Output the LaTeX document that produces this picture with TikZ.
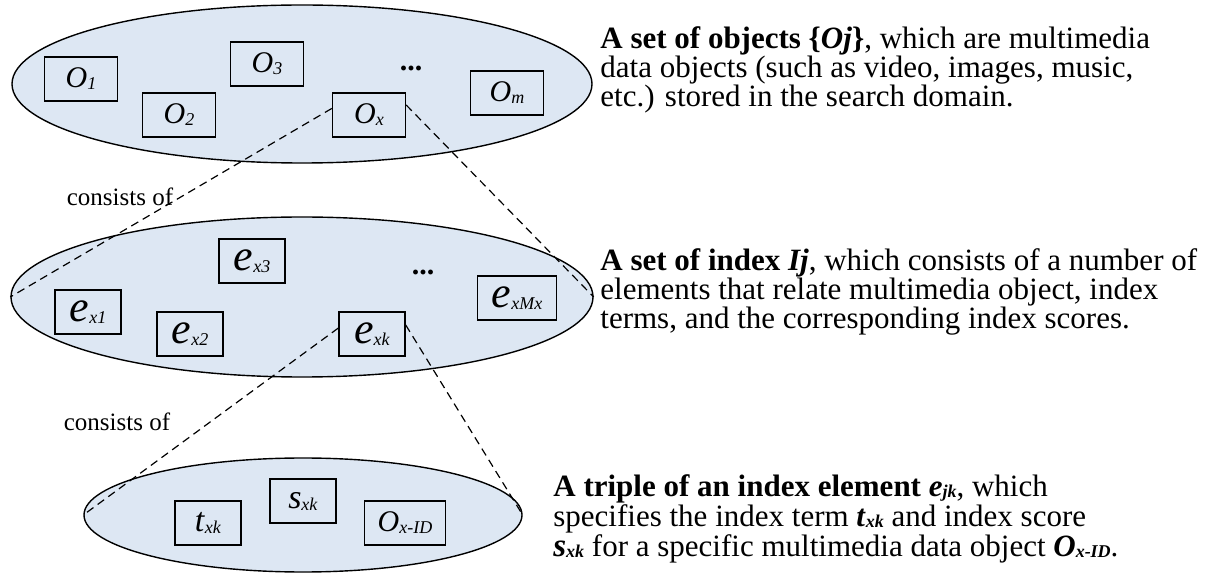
\documentclass[tikz,border=0pt]{standalone}
\usepackage{fontspec}
\setmainfont{Liberation Serif}
\usetikzlibrary{shapes.geometric}
\definecolor{setfill}{RGB}{221,231,243}
\tikzset{
  setell/.style={ellipse, draw, line width=0.7pt, fill=setfill, inner sep=0pt},
  itembox/.style={draw, line width=0.7pt, fill=setfill, minimum width=36.5pt, minimum height=22pt, inner sep=0pt},
  linkln/.style={dash pattern=on 4pt off 2.6pt, line width=0.6pt},
  desc/.style={align=left, anchor=west, inner sep=0pt, font=\fontsize{15.5}{14.5}\selectfont},
  tagtxt/.style={inner sep=0pt, font=\fontsize{12.5}{14}\selectfont},
  dotstxt/.style={inner sep=0pt, font=\fontsize{15}{15}\selectfont\bfseries},
}
\newcommand{\sublbl}[3]{{\fontsize{#1}{#1}\selectfont\textit{#2}}\raisebox{-1pt}{\fontsize{9}{9}\selectfont\textit{#3}}}
\newcommand{\subb}[1]{\raisebox{-0.5pt}{\fontsize{9}{9}\selectfont\bfseries\itshape #1}}

\begin{document}
\begin{tikzpicture}[x=0.5pt, y=-0.5pt]
    \useasboundingbox (0,0) rectangle (1211,577);
    % Sets
    \node[setell, minimum width=290pt, minimum height=79pt] (objset) at (302,84) {};
    \node[setell, minimum width=291pt, minimum height=80pt] (idxset) at (302,297) {};
    \node[setell, minimum width=219pt, minimum height=57pt] (triple) at (303,515) {};
    % Objects
    \node[itembox] (o1) at (81,79) {\sublbl{15}{O}{1}};
    \node[itembox] (o3) at (267,64) {\sublbl{15}{O}{3}};
    \node[itembox] (o2) at (179,115) {\sublbl{15}{O}{2}};
    \node[itembox] (ox) at (369,115) {\sublbl{15}{O}{x}};
    \node[itembox] (om) at (507,93) {\sublbl{15}{O}{m}};
    \node[dotstxt] (odots) at (411,68) {...};
    % Index elements
    \node[itembox, minimum width=33pt] (ex1) at (88,312) {\sublbl{22}{e}{x1}};
    \node[itembox, minimum width=33pt] (ex2) at (190,334) {\sublbl{22}{e}{x2}};
    \node[itembox, minimum width=33pt] (ex3) at (252,261) {\sublbl{22}{e}{x3}};
    \node[itembox, minimum width=33pt] (exk) at (372,334) {\sublbl{22}{e}{xk}};
    \node[itembox, minimum width=39.5pt] (exm) at (517,298) {\sublbl{22}{e}{xMx}};
    \node[dotstxt] (edots) at (423,272) {...};
    % Triple
    \node[itembox, minimum width=33pt] (txk) at (208,523) {\sublbl{17}{t}{xk}};
    \node[itembox, minimum width=33pt] (sxk) at (303,501) {\sublbl{17}{s}{xk}};
    \node[itembox, minimum width=40.5pt] (oid) at (405,523) {\sublbl{15}{O}{x-ID}};
    % Zoom lines
    \draw[linkln] (ox.170) -- (idxset.west);
    \draw[linkln] (ox.15) -- (idxset.east);
    \draw[linkln] (exk.170) -- (triple.west);
    \draw[linkln] (exk.15) -- (triple.east);
    \node[tagtxt] (cons1) at (120,197) {consists of};
    \node[tagtxt] (cons2) at (117,422) {consists of};
    % Descriptions
    \node[desc] (objtxt) at (600,70) {\textbf{A set of objects \{\textit{Oj}\}}, which are multimedia\\
      data objects (such as video, images, music,\\
      etc.) stored in the search domain.};
    \node[desc] (idxtxt) at (600,292) {\textbf{A set of index \textit{Ij}}, which consists of a number of\\
      elements that relate multimedia object, index\\
      terms, and the corresponding index scores.};
    \node[desc, font=\fontsize{15.5}{15}\selectfont] (tritxt) at (553,519) {\textbf{A triple of an index element \textit{e}}\subb{jk}, which\\
      specifies the index term \textbf{\textit{t}}\subb{xk} and index score\\
      {\fontsize{16.5}{16.5}\selectfont\textbf{\textit{s}}}\subb{xk} for a specific multimedia data object \textbf{\textit{O}}\subb{x-ID}.};
  \end{tikzpicture}
\end{document}
